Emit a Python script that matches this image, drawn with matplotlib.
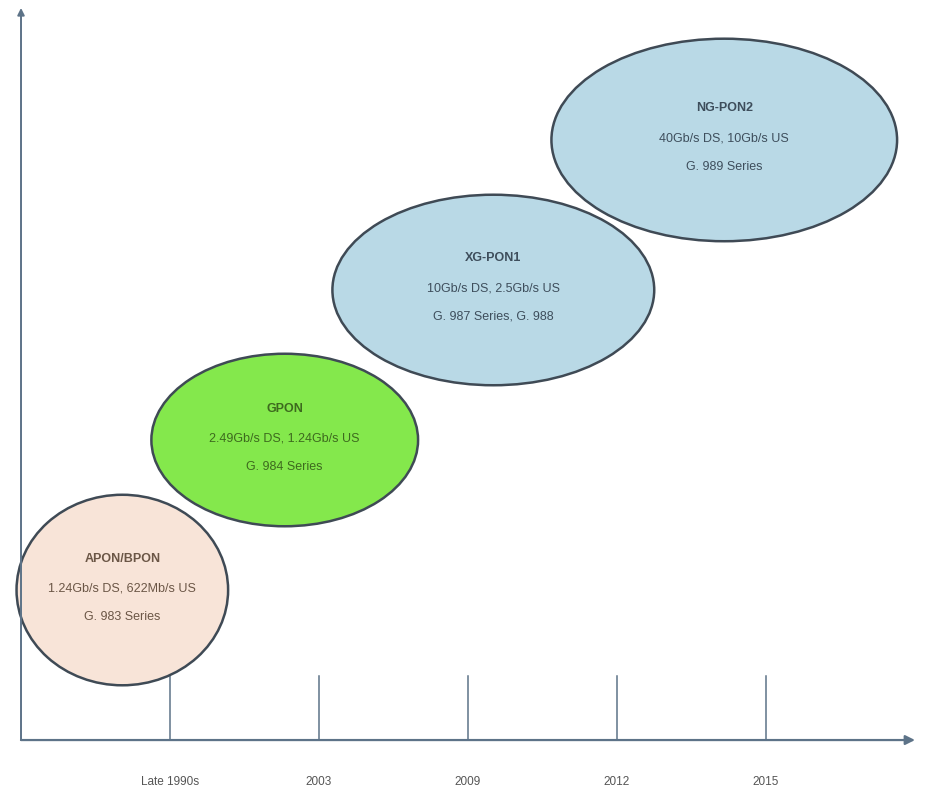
import matplotlib.pyplot as plt
from matplotlib.patches import Ellipse

plt.rcParams['font.family'] = ['Liberation Sans Narrow', 'Liberation Sans', 'DejaVu Sans']

# Timeline data
eras = ["Late 1990s", "2003", "2009", "2012", "2015"]
names = ["APON/BPON", "GPON", "XG-PON1", "NG-PON2"]
rates = ["1.24Gb/s DS, 622Mb/s US", "2.49Gb/s DS, 1.24Gb/s US",
         "10Gb/s DS, 2.5Gb/s US", "40Gb/s DS, 10Gb/s US"]
standards = ["G. 983 Series", "G. 984 Series", "G. 987 Series, G. 988", "G. 989 Series"]
levels = [1, 2, 3, 4]

# layout / style for each bubble
centers_x = [-0.32, 0.77, 2.17, 3.72]
widths = [1.42, 1.79, 2.16, 2.32]
heights = [1.27, 1.15, 1.27, 1.35]
fills = ["#f8e4d8", "#84e84c", "#b9d9e6", "#b9d9e6"]
text_colors = ["#6b5646", "#3d6a1e", "#3e4e5c", "#3e4e5c"]

axis_color = "#5d7388"

fig = plt.figure(figsize=(9.26, 7.99), dpi=100)
ax = fig.add_axes([0, 0, 1, 1])
ax.set_xlim(-1.141, 5.074)
ax.set_ylim(-0.393, 4.933)
ax.axis("off")

# axes with arrows
ax.annotate("", xy=(5.0, 0), xytext=(-1.0, 0),
            arrowprops=dict(arrowstyle="-|>", color=axis_color, lw=1.6,
                            mutation_scale=14, shrinkA=0, shrinkB=0))
ax.annotate("", xy=(-1.0, 4.88), xytext=(-1.0, 0),
            arrowprops=dict(arrowstyle="-|>", color=axis_color, lw=1.4,
                            mutation_scale=10, shrinkA=0, shrinkB=0))

# tick marks + year labels
for i, era in enumerate(eras):
    ax.plot([i, i], [0, 0.43], color=axis_color, lw=1.1, zorder=1)
    ax.text(i, -0.28, era, ha="center", va="center", fontsize=8.5, color="#555555")

# generation bubbles
for i in range(len(names)):
    e = Ellipse((centers_x[i], levels[i]), widths[i], heights[i],
                facecolor=fills[i], edgecolor="#3f4a55", lw=1.8, zorder=2 + i)
    ax.add_patch(e)
    tc = text_colors[i]
    ax.text(centers_x[i], levels[i] + 0.21, names[i], ha="center", va="center",
            fontsize=9, fontweight="bold", color=tc, zorder=10)
    ax.text(centers_x[i], levels[i] + 0.01, rates[i], ha="center", va="center",
            fontsize=9, color=tc, zorder=10)
    ax.text(centers_x[i], levels[i] - 0.18, standards[i], ha="center", va="center",
            fontsize=9, color=tc, zorder=10)

plt.savefig("out.png", dpi=100)
